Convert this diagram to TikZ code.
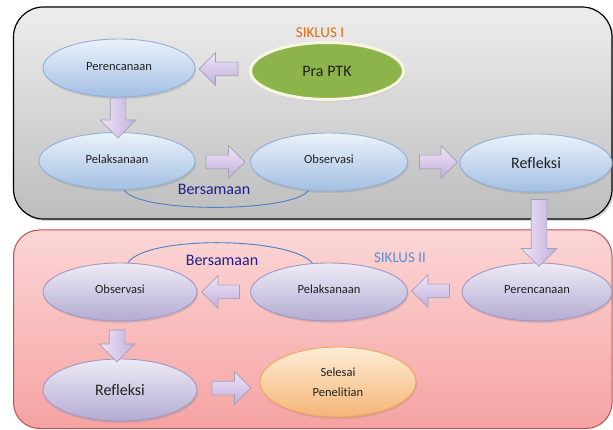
\documentclass[tikz,border=0pt]{standalone}
\usepackage{fontspec}
\setmainfont{Carlito}[RawFeature={-liga}]
\usetikzlibrary{shapes.geometric,shapes.arrows,shadows}
\definecolor{boxgraytop}{HTML}{EDEDED}
\definecolor{boxgraybot}{HTML}{BDBDBD}
\definecolor{boxpinktop}{HTML}{FCD6D6}
\definecolor{boxpinkbot}{HTML}{F6A2A2}
\definecolor{boxpinkline}{HTML}{C0504D}
\definecolor{elbluetop}{HTML}{EBF2FB}
\definecolor{elbluebot}{HTML}{A3BFE2}
\definecolor{elblueline}{HTML}{8FB0DA}
\definecolor{ellavtop}{HTML}{EEEBF6}
\definecolor{ellavbot}{HTML}{B3ABD2}
\definecolor{ellavline}{HTML}{9F98C4}
\definecolor{elortop}{HTML}{FDEDD6}
\definecolor{elorbot}{HTML}{F5B577}
\definecolor{elorline}{HTML}{F0A458}
\definecolor{ptkgreen}{HTML}{8DB34B}
\definecolor{ptkrim}{HTML}{F6F6E2}
\definecolor{arrtop}{HTML}{EEE5F8}
\definecolor{arrbot}{HTML}{C2AFDB}
\definecolor{arrline}{HTML}{A2A0B4}
\definecolor{siklusone}{HTML}{E46C0A}
\definecolor{siklustwo}{HTML}{5F8FCF}
\definecolor{bersama}{HTML}{1F1F8C}
\definecolor{arcblue}{HTML}{4A80C8}
\definecolor{txt}{HTML}{222222}
\begin{document}
\begin{tikzpicture}[x=1pt,y=-1pt,
  smalltxt/.style={font=\fontsize{12.5}{20}\selectfont},
  bigtxt/.style={font=\fontsize{16}{19}\selectfont},
  ellbase/.style={ellipse, inner sep=0pt, text=txt, align=center,
    minimum width=154pt, minimum height=58pt, line width=0.9pt,
    drop shadow={opacity=0.25, shadow xshift=1pt, shadow yshift=-2pt}},
  blueell/.style={ellbase, draw=elblueline, top color=elbluetop, bottom color=elbluebot},
  lavell/.style={ellbase, draw=ellavline, top color=ellavtop, bottom color=ellavbot},
  orell/.style={ellbase, draw=elorline, top color=elortop, bottom color=elorbot},
  greenell/.style={ellbase, draw=ptkrim, line width=3pt, fill=ptkgreen},
  barrow/.style={single arrow, draw=arrline, line width=0.7pt, inner xsep=0pt,
    inner ysep=6.5pt, single arrow head extend=9.5pt, top color=arrtop, bottom color=arrbot},
  darrow/.style={single arrow, draw=arrline, line width=0.7pt, inner xsep=7.5pt,
    inner ysep=0pt, single arrow head extend=10pt, shape border rotate=270,
    left color=arrtop, right color=arrbot},
  arcline/.style={draw=arcblue, line width=0.9pt},
]
\useasboundingbox (0,0) rectangle (613,430);
\fill[white] (0,0) rectangle (613,430);

% cycle boxes
\draw[black, line width=1.2pt, top color=boxgraytop, bottom color=boxgraybot,
  rounded corners=30pt, drop shadow={opacity=0.3, shadow xshift=2pt, shadow yshift=-2pt}]
  (13.5,7) rectangle (612,219);
\draw[boxpinkline, line width=1pt, top color=boxpinktop, bottom color=boxpinkbot,
  rounded corners=26pt] (13.5,230) rectangle (612,428.5);

% SIKLUS I
\node[blueell, smalltxt, minimum width=152pt] (per1) at (119,68) {\raisebox{3pt}{Perencanaan}};
\node[greenell, bigtxt, minimum width=153pt, minimum height=57pt] (pra) at (327,71) {Pra PTK};
\node[blueell, smalltxt, minimum width=156pt, minimum height=57pt] (pel1) at (117,161) {\raisebox{4pt}{Pelaksanaan}};
\node[blueell, smalltxt, minimum width=157pt] (obs1) at (329,162) {\raisebox{5pt}{Observasi}};
\node[blueell, bigtxt, minimum width=152pt] (ref1) at (536,163) {\raisebox{-4pt}{Refleksi}};
\node[text=siklusone, font=\fontsize{15}{18}\selectfont] (sik1) at (320,33) {SIKLUS I};
\node[text=bersama, bigtxt] (ber1) at (214,189) {Bersamaan};

% SIKLUS II
\node[lavell, smalltxt, minimum width=150pt] (per2) at (537,292) {\raisebox{5pt}{Perencanaan}};
\node[lavell, smalltxt, minimum width=157pt] (pel2) at (329,292) {\raisebox{5pt}{Pelaksanaan}};
\node[lavell, smalltxt] (obs2) at (120,292) {\raisebox{5pt}{Observasi}};
\node[lavell, bigtxt, minimum height=62pt] (ref2) at (120,390) {\raisebox{-3pt}{Refleksi}};
\node[orell, smalltxt, minimum width=156pt, minimum height=70pt] (sel) at (338,382) {Selesai\\Penelitian};
\node[text=siklustwo, font=\fontsize{15}{18}\selectfont] (sik2) at (400,258) {SIKLUS II};
\node[text=bersama, bigtxt] (ber2) at (222,260) {Bersamaan};

% simultaneous arcs
\draw[arcline] (pel1.284) .. controls +(14,24) and +(-14,22) .. (obs1.234);
\draw[arcline] (obs2.75) .. controls +(20,-28) and +(-20,-26) .. (pel2.120);

% block arrows
\node[barrow, minimum height=39pt, shape border rotate=180] (a1) at (222,69) {};
\node[darrow, minimum height=40pt] (a2) at (118,114) {};
\node[barrow, minimum height=39pt] (a3) at (222,162) {};
\node[barrow, minimum height=38pt] (a4) at (435,162) {};
\node[darrow, minimum height=67pt] (a5) at (539,229) {};
\node[barrow, minimum height=38pt, shape border rotate=180] (a6) at (434,291) {};
\node[barrow, minimum height=38pt, shape border rotate=180] (a7) at (224,292) {};
\node[darrow, minimum height=32pt] (a8) at (117,342) {};
\node[barrow, minimum height=39pt] (a9) at (228,388) {};
\end{tikzpicture}
\end{document}
